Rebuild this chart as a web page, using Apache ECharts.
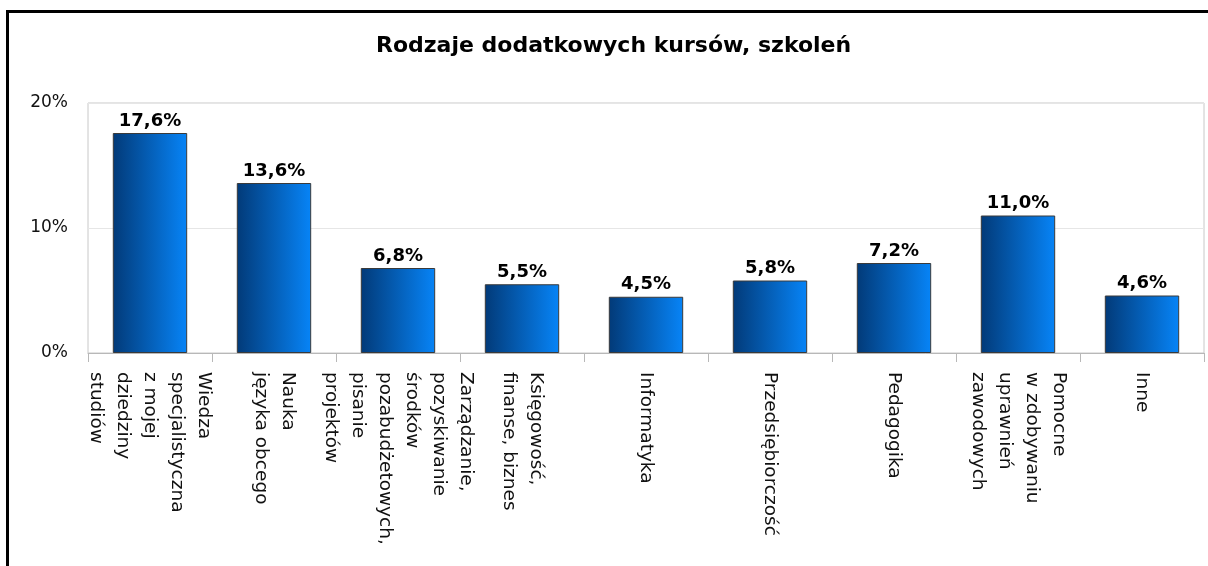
<!DOCTYPE html>
<html>
<head>
<meta charset="utf-8">
<script src="https://cdn.jsdelivr.net/npm/echarts@6/dist/echarts.min.js"></script>
<style>
  html, body { margin: 0; padding: 0; background: #fff; }
  #chart { position: absolute; left: 0; top: 0; width: 1208px; height: 566px; }
  #frame { position: absolute; left: 6px; top: 10px; width: 1400px; height: 800px;
           border-left: 3px solid #000; border-top: 3px solid #000; pointer-events: none; }
</style>
</head>
<body>
<div id="chart"></div>
<div id="frame"></div>
<script>
const titleText = 'Rodzaje dodatkowych kursów, szkoleń';
const categories = [
  'Wiedza\nspecjalistyczna\nz mojej\ndziedziny\nstudiów',
  'Nauka\njęzyka obcego',
  'Zarządzanie,\npozyskiwanie\nśrodków\npozabudżetowych,\npisanie\nprojektów',
  'Księgowość,\nfinanse, biznes',
  'Informatyka',
  'Przedsiębiorczość',
  'Pedagogika',
  'Pomocne\nw zdobywaniu\nuprawnień\nzawodowych',
  'Inne'
];
const values = [17.6, 13.6, 6.8, 5.5, 4.5, 5.8, 7.2, 11.0, 4.6];
const yTicks = [0, 10, 20];

const chart = echarts.init(document.getElementById('chart'), null, { renderer: 'canvas' });
const FONT = 'DejaVu Sans';

chart.setOption({
  backgroundColor: '#fff',
  animation: false,
  title: {
    text: titleText,
    left: 371,
    top: 30,
    textStyle: { fontFamily: FONT, fontSize: 22, fontWeight: 'bold', color: '#000' }
  },
  grid: {
    left: 88, top: 103, width: 1116, height: 250,
    show: true, borderColor: '#c8c8c8', borderWidth: 1, containLabel: false
  },
  xAxis: {
    type: 'category',
    data: categories,
    axisLine: { show: true, lineStyle: { color: '#b8b8b8', width: 1 } },
    axisTick: { show: true, alignWithLabel: false, length: 9, lineStyle: { color: '#b8b8b8' } },
    axisLabel: {
      interval: 0, rotate: -90, margin: 19,
      fontFamily: FONT, fontSize: 18.5, lineHeight: 27, color: '#111'
    }
  },
  yAxis: {
    type: 'value',
    min: yTicks[0], max: yTicks[yTicks.length - 1], interval: 10,
    axisLine: { show: false },
    axisTick: { show: false },
    splitLine: { show: true, lineStyle: { color: '#e6e6e6', width: 1 } },
    axisLabel: {
      margin: 20,
      fontFamily: FONT, fontSize: 17, color: '#111',
      formatter: v => v + '%'
    }
  },
  series: [{
    type: 'bar',
    data: values,
    barCategoryGap: '40%',
    itemStyle: {
      borderColor: '#3a3a3a', borderWidth: 1,
      color: {
        type: 'linear', x: 0, y: 0, x2: 1, y2: 0,
        colorStops: [
          { offset: 0, color: '#023a78' },
          { offset: 1, color: '#0784f7' }
        ]
      }
    },
    label: {
      show: true, position: 'top', distance: 3,
      fontFamily: FONT, fontSize: 18, fontWeight: 'bold', color: '#000',
      formatter: p => p.value.toFixed(1).replace('.', ',') + '%'
    }
  }]
});
</script>
</body>
</html>
